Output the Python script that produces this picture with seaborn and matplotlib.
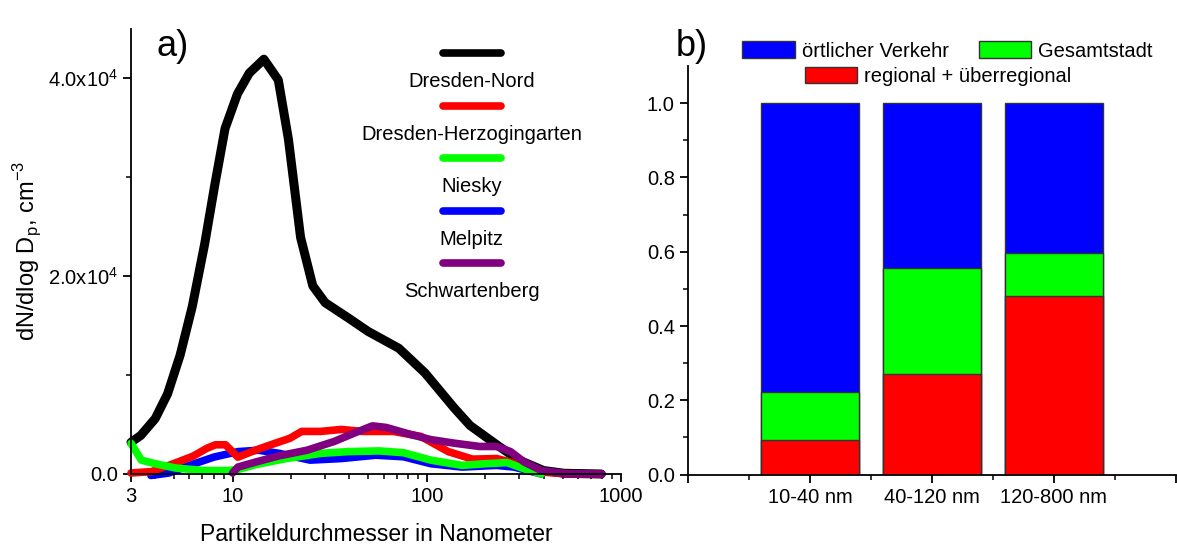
import matplotlib
matplotlib.use('Agg')
import numpy as np
import pandas as pd
import matplotlib.pyplot as plt
import seaborn as sns
from matplotlib.patches import Patch
from matplotlib.ticker import FixedLocator, NullFormatter, FuncFormatter

# --- a) Anzahlgroessenverteilungen (read off the picture) ---
nord_x = [3.0, 3.37, 4.0, 4.63, 5.37, 6.2, 7.18, 8.1, 9.15, 10.6, 12.2, 14.5, 17.2, 19.4,
          22.4, 25.9, 30.0, 39.2, 49.9, 71.8, 98.0, 138, 167, 235, 299, 399, 510, 790]
nord_y = [3200, 3900, 5600, 8100, 12000, 16900, 23200, 29200, 34900, 38400, 40500, 41900, 39800, 33800,
          23900, 19000, 17300, 15800, 14400, 12700, 10200, 6700, 4900, 2800, 1400, 350, 70, 0]

herzog_x = [3.0, 3.83, 4.9, 6.26, 7.38, 8.17, 9.2, 10.65, 13.1, 16.0, 19.7, 22.7, 28.4, 36.3,
            46.4, 67.1, 93.1, 129, 172, 229, 270, 331, 406, 519, 790]
herzog_y = [100, 240, 1000, 1800, 2600, 2950, 2950, 1700, 2400, 3000, 3600, 4300, 4300, 4500,
            4300, 4300, 3800, 2260, 1500, 1560, 1200, 600, 170, 30, 0]

niesky_x = [3.0, 3.39, 3.99, 5.1, 7.08, 9.4, 10.66, 13.1, 18.9, 28.4, 39.4, 57.0, 75.9, 105,
            152, 202, 259, 318, 389]
niesky_y = [3100, 1400, 1040, 600, 350, 350, 450, 940, 1560, 2080, 2260, 2330, 2150, 1400,
            870, 1040, 1150, 520, 0]

melpitz_x = [3.8, 4.7, 6.0, 8.0, 10.66, 13.6, 17.4, 25.1, 36.3, 54.7, 75.9, 105, 152, 229, 281, 389]
melpitz_y = [-150, 100, 870, 1700, 2260, 2400, 2080, 1400, 1560, 1900, 1740, 1040, 700, 870, 700, 0]

schwarten_x = [10.0, 10.66, 13.1, 17.4, 24.2, 33.5, 42.8, 52.5, 61.8, 82.3, 105, 140, 187, 229,
               270, 318, 389, 519, 800]
schwarten_y = [100, 700, 1200, 1840, 2400, 3300, 4170, 4860, 4700, 4000, 3470, 3100, 2780, 2780,
               2260, 1200, 350, 30, 0]

site_names = ['Dresden-Nord', 'Dresden-Herzogingarten', 'Niesky', 'Melpitz', 'Schwartenberg']
site_colors = ['#000000', '#ff0000', '#00ff00', '#0000ff', '#800080']

# --- b) Quellenanteile ---
bar_cats = ['10-40 nm', '40-120 nm', '120-800 nm']
regional = [0.093, 0.270, 0.480]
gesamtstadt = [0.130, 0.286, 0.116]
verkehr = [0.777, 0.444, 0.404]

sns.set_style('ticks')
plt.rcParams['font.family'] = ['Liberation Sans', 'DejaVu Sans']
plt.rcParams['mathtext.fontset'] = 'custom'
plt.rcParams['mathtext.rm'] = 'Liberation Sans'
plt.rcParams['axes.linewidth'] = 1.3
for k in ['text.color', 'axes.labelcolor', 'xtick.color', 'ytick.color', 'axes.edgecolor']:
    plt.rcParams[k] = 'black'

fig = plt.figure(figsize=(11.77, 5.44), dpi=100)
ax1 = fig.add_axes([0.1113, 0.1287, 0.4163, 0.8189])
ax2 = fig.add_axes([0.5845, 0.1276, 0.4145, 0.7511])

# long table for seaborn
parts = []
for name, xs, ys in zip(site_names,
                        [nord_x, herzog_x, niesky_x, melpitz_x, schwarten_x],
                        [nord_y, herzog_y, niesky_y, melpitz_y, schwarten_y]):
    parts.append(pd.DataFrame({'Dp': xs, 'dN': ys, 'site': name}))
df = pd.concat(parts, ignore_index=True)

draw_order = ['Dresden-Nord', 'Melpitz', 'Dresden-Herzogingarten', 'Niesky', 'Schwartenberg']
pal = dict(zip(site_names, site_colors))
sns.lineplot(data=df, x='Dp', y='dN', hue='site', hue_order=draw_order, palette=pal,
             estimator=None, sort=False, linewidth=5.5, legend=False, ax=ax1,
             clip_on=False, solid_joinstyle='round', solid_capstyle='round')
ax1.lines[0].set_linewidth(6.5)  # Dresden-Nord drawn a bit heavier

ax1.set_xscale('log')
ax1.set_xlim(3, 1000)
ax1.set_ylim(0, 45000)
ax1.xaxis.set_major_locator(FixedLocator([3, 10, 100, 1000]))
ax1.xaxis.set_major_formatter(FuncFormatter(lambda v, p: '%g' % v))
minors = list(range(4, 10)) + list(range(20, 100, 10)) + list(range(200, 1000, 100))
ax1.xaxis.set_minor_locator(FixedLocator(minors))
ax1.xaxis.set_minor_formatter(NullFormatter())
ax1.yaxis.set_major_locator(FixedLocator([0, 20000, 40000]))
ax1.yaxis.set_minor_locator(FixedLocator([10000, 30000]))
ax1.set_yticklabels(['0.0', r'$\mathregular{2.0x10^{4}}$', r'$\mathregular{4.0x10^{4}}$'])
ax1.set_xlabel('Partikeldurchmesser in Nanometer', fontsize=16.5, labelpad=12)
ax1.set_ylabel(r'dN/dlog D$_\mathregular{p}$, cm$^\mathregular{-3}$', fontsize=17, labelpad=3)

# legend: line on top, name below (Origin style)
for i, (name, col) in enumerate(zip(site_names, site_colors)):
    ly = 0.945 - i * 0.118
    ax1.plot([0.637, 0.755], [ly, ly], transform=ax1.transAxes, color=col, lw=5.5,
             solid_capstyle='round', clip_on=False)
    ax1.text(0.695, ly - 0.064, name, transform=ax1.transAxes, ha='center', va='center',
             fontsize=14.5)

# stacked bars
tot = np.array(regional) + np.array(gesamtstadt) + np.array(verkehr)
mid = np.array(regional) + np.array(gesamtstadt)
bar_kw = dict(width=0.8, saturation=1, edgecolor='#333333', linewidth=1.0, ax=ax2)
sns.barplot(x=bar_cats, y=tot, color='#0000ff', **bar_kw)
sns.barplot(x=bar_cats, y=mid, color='#00ff00', **bar_kw)
sns.barplot(x=bar_cats, y=regional, color='#ff0000', **bar_kw)

ax2.set_xlim(-1, 3)
ax2.set_ylim(0, 1.1)
ax2.set_xticks([-1, 0, 1, 2, 3])
ax2.set_xticklabels([''] + bar_cats + [''])
ax2.xaxis.set_minor_locator(FixedLocator([-0.5, 0.5, 1.5, 2.5]))
ax2.yaxis.set_major_locator(FixedLocator([0, 0.2, 0.4, 0.6, 0.8, 1.0]))
ax2.yaxis.set_minor_locator(FixedLocator([0.1, 0.3, 0.5, 0.7, 0.9]))
ax2.yaxis.set_major_formatter(FuncFormatter(lambda v, p: '%.1f' % v))
ax2.set_xlabel('')
ax2.set_ylabel('')

for ax in (ax1, ax2):
    sns.despine(ax=ax)
    ax.tick_params(which='major', length=6, width=1.3, labelsize=14.5, direction='out')
    ax.tick_params(which='minor', length=3.5, width=1.1, direction='out')
    ax.spines['bottom'].set_clip_on(False)

h_top = [Patch(facecolor='#0000ff', edgecolor='#333333', label='örtlicher Verkehr'),
         Patch(facecolor='#00ff00', edgecolor='#333333', label='Gesamtstadt')]
h_bot = [Patch(facecolor='#ff0000', edgecolor='#333333', label='regional + überregional')]
leg_kw = dict(frameon=False, fontsize=14.5, handlelength=2.6, handleheight=0.9,
              handletextpad=0.35, columnspacing=1.5, borderpad=0, borderaxespad=0)
fig.legend(handles=h_top, ncol=2, loc='center', bbox_to_anchor=(0.805, 0.906), **leg_kw)
fig.legend(handles=h_bot, ncol=1, loc='center', bbox_to_anchor=(0.797, 0.860), **leg_kw)

fig.text(0.133, 0.915, 'a)', fontsize=26, ha='left', va='center')
fig.text(0.574, 0.915, 'b)', fontsize=26, ha='left', va='center')

fig.savefig('out.png', dpi=100)
